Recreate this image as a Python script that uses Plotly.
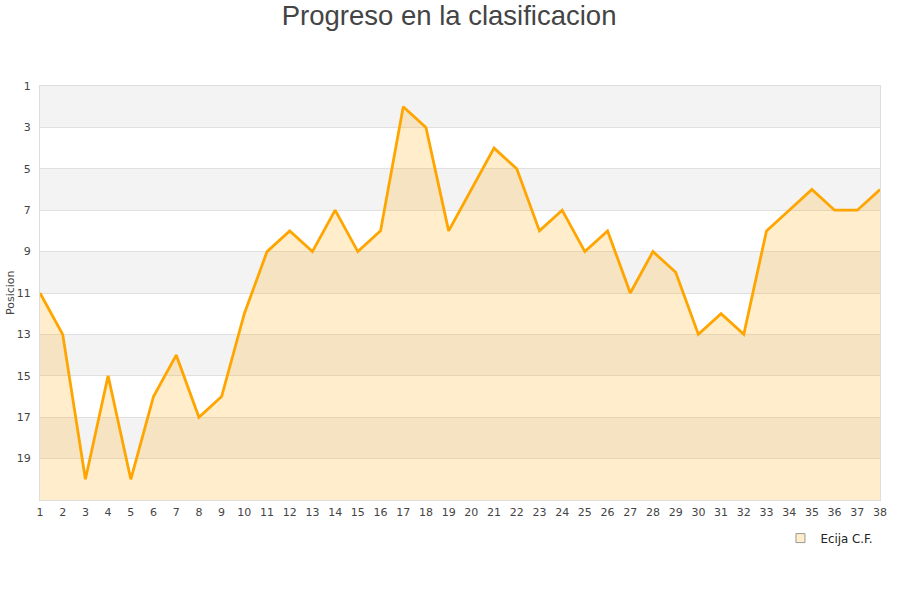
import plotly.graph_objects as go

jornadas = list(range(1, 39))
posicion = [11, 13, 20, 15, 20, 16, 14, 17, 16, 12, 9, 8, 9, 7, 9, 8, 2, 3, 8, 6,
            4, 5, 8, 7, 9, 8, 11, 9, 10, 13, 12, 13, 8, 7, 6, 7, 7, 6]
y_ticks = [1, 3, 5, 7, 9, 11, 13, 15, 17, 19]
equipo = "Ecija C.F."
fondo = 21

fig = go.Figure()

# baseline for fill
fig.add_trace(go.Scatter(x=jornadas, y=[fondo] * len(jornadas), mode="lines",
                         line=dict(width=0), showlegend=False, hoverinfo="skip"))
fig.add_trace(go.Scatter(x=jornadas, y=posicion, mode="lines", fill="tonexty",
                         fillcolor="rgba(255,165,0,0.2)",
                         line=dict(color="#FFA500", width=2.8), showlegend=False,
                         name=equipo))
# legend entry
fig.add_trace(go.Scatter(x=[None], y=[None], mode="markers", name=equipo,
                         marker=dict(symbol="square", size=9,
                                     color="rgba(255,165,0,0.2)",
                                     line=dict(color="#999", width=1))))

shapes = []
for start in range(1, 21, 4):
    shapes.append(dict(type="rect", xref="paper", yref="y", x0=0, x1=1,
                       y0=start, y1=start + 2, fillcolor="#F3F3F3",
                       line=dict(width=0), layer="below"))

fig.update_layout(
    width=900, height=600,
    paper_bgcolor="white", plot_bgcolor="white",
    margin=dict(l=40, r=20, t=86, b=100, autoexpand=False),
    title=dict(text="Progreso en la clasificacion", x=0.499, xanchor="center",
               y=0.975, yanchor="middle",
               font=dict(family="Liberation Sans, Arial", size=27.5, color="#444")),
    shapes=shapes,
    showlegend=True,
    legend=dict(x=0.8815, y=-0.092, xanchor="left", yanchor="middle",
                font=dict(family="DejaVu Sans", size=11.8, color="#222"),
                bgcolor="rgba(0,0,0,0)", itemwidth=30),
    font=dict(family="DejaVu Sans", size=11, color="#444"),
    annotations=[dict(text="Posicion", xref="paper", yref="paper",
                      x=-0.0357, y=0.5, xanchor="center", yanchor="middle",
                      textangle=-90, showarrow=False,
                      font=dict(size=11, color="#444"))],
)
fig.update_xaxes(range=[1, 38], tickmode="array", tickvals=jornadas,
                 showgrid=False, zeroline=False, showline=True,
                 linecolor="#DDDDDD", mirror=True, ticks="",
                 automargin=False, ticklabelstandoff=2,
                 tickfont=dict(size=11, color="#444"))
fig.update_yaxes(range=[21, 1], tickmode="array", tickvals=y_ticks,
                 showgrid=True, gridcolor="#E0E0E0", zeroline=False,
                 showline=True, linecolor="#DDDDDD", mirror=True, ticks="",
                 automargin=False, ticklabelstandoff=6,
                 tickfont=dict(size=11, color="#444"))

fig.write_html("out.html", config={"displayModeBar": False},
               post_script="document.body.style.margin='0px';")
